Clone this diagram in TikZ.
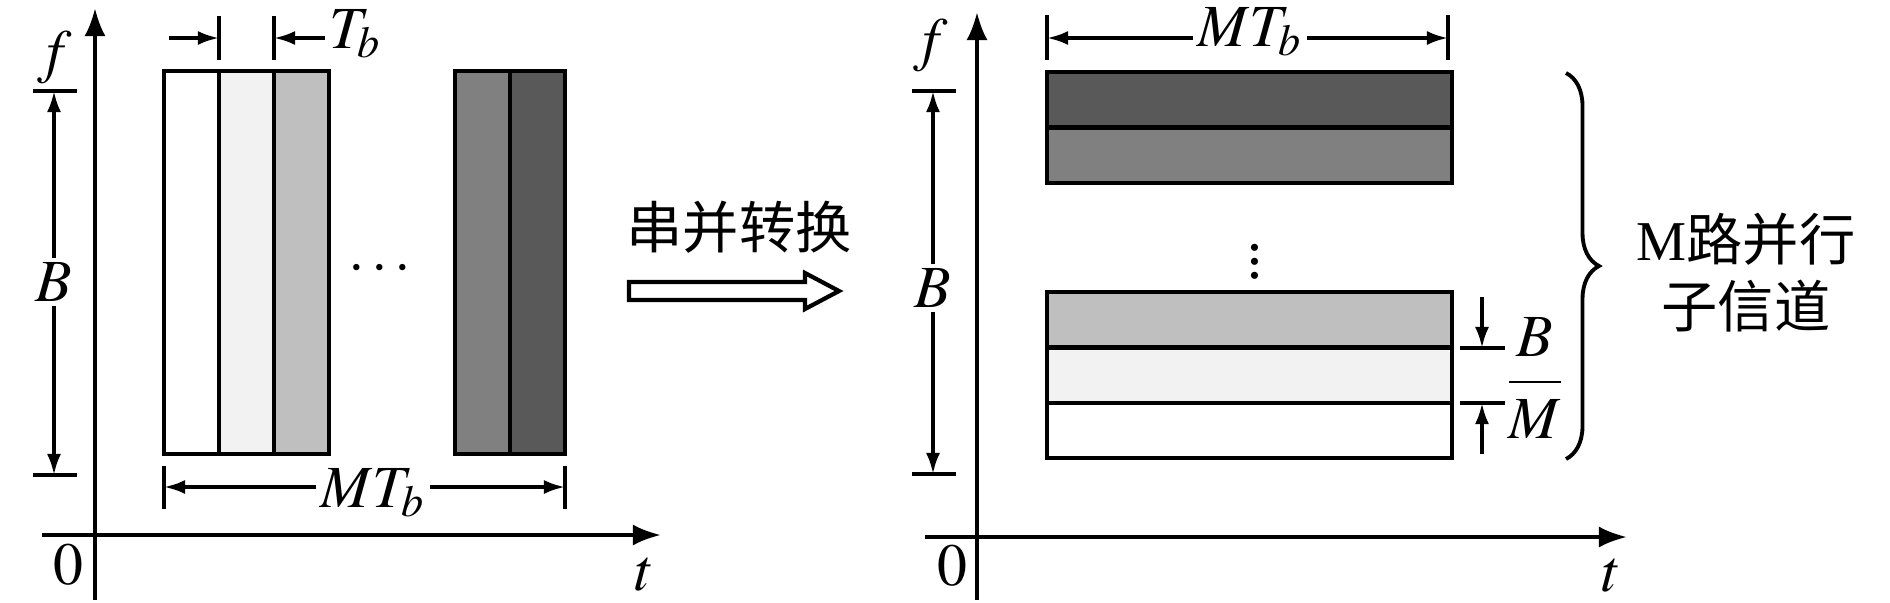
\documentclass[tikz,border=0pt]{standalone}
\usepackage{mathptmx}
\usepackage{fontspec}
\setmainfont{Liberation Serif}
\newfontfamily\cjk{Noto Sans CJK SC}
\usetikzlibrary{arrows.meta}
\usetikzlibrary{positioning}
\usetikzlibrary{decorations.pathreplacing}
\definecolor{shadeA}{gray}{0.95}
\definecolor{shadeB}{gray}{0.75}
\definecolor{shadeC}{gray}{0.5}
\definecolor{shadeD}{gray}{0.35}
\tikzset{axis/.style={-{Latex[length=8pt,width=6pt]}, line width=1.1pt}}
\tikzset{dim/.style={-{Latex[length=6pt,width=4pt]}, line width=1pt}}
\tikzset{tick/.style={line width=1.1pt}}
\tikzset{cell/.style={draw, line width=1.2pt}}
\tikzset{lbl/.style={inner sep=1pt, font=\fontsize{17}{20}\selectfont}}
\tikzset{zh/.style={inner sep=1pt, align=center, font=\fontsize{16}{19}\selectfont\cjk}}

\begin{document}
\begin{tikzpicture}[x=0.01cm, y=-0.01cm]
   \useasboundingbox (0,0) rectangle (1890,602);

   % serial
   \draw[axis] (95,600) -- (95,8);
   \draw[axis] (42,535) -- (661,535);
   \node[lbl] (lzero) at (68,565) {$0$};
   \node[lbl] (lt) at (645,575) {$t$};
   \node[lbl] (lf) at (55,58) {$f$};
   \draw[tick] (33,91) -- (77,91);
   \draw[tick] (33,475) -- (77,475);
   \coordinate (lbtop) at (54,91);
   \coordinate (lbbot) at (54,475);
   \node[lbl] (lB) at (54,282) {$B$};
   \draw[dim] (lB) -- (lbtop);
   \draw[dim] (lB) -- (lbbot);

   \foreach \x/\c in {164/white, 219/shadeA, 274/shadeB, 455/shadeC, 510/shadeD}
      \draw[cell, fill=\c] (\x,71) rectangle ++(55,383);
   \node[lbl] (ldots) at (380,269) {$\cdots$};

   \draw[tick] (219,16) -- (219,60);
   \draw[tick] (274,16) -- (274,60);
   \coordinate (tbl) at (169,38);
   \coordinate (tba) at (219,38);
   \coordinate (tbb) at (274,38);
   \node[lbl, anchor=base west] (ltb) at (325,48) {$T_b$};
   \draw[dim] (tbl) -- (tba);
   \draw[dim] (ltb.west |- tbb) -- (tbb);

   \draw[tick] (164,466) -- (164,509);
   \draw[tick] (565,466) -- (565,509);
   \coordinate (lmtl) at (164,487);
   \coordinate (lmtr) at (565,487);
   \node[lbl, anchor=base] (lmtb) at (373,507) {$MT_b$};
   \draw[dim] (lmtb.west |- lmtl) -- (lmtl);
   \draw[dim] (lmtb.east |- lmtr) -- (lmtr);

   % conversion
   \node[zh] (conv) at (739,227) {串并转换};
   \draw[line width=1.2pt, line join=miter]
      (629,282) -- (805,282) -- (805,273) -- (839,291) -- (805,309)
      -- (805,300) -- (629,300) -- cycle;

   % parallel
   \draw[axis] (977,600) -- (977,12);
   \draw[axis] (925,537) -- (1627,537);
   \node[lbl] (rzero) at (952,566) {$0$};
   \node[lbl] (rt) at (1612,576) {$t$};
   \node[lbl] (rf) at (931,46) {$f$};
   \draw[tick] (912,91) -- (956,91);
   \draw[tick] (912,474) -- (956,474);
   \coordinate (rbtop) at (933,91);
   \coordinate (rbbot) at (933,474);
   \node[lbl] (rB) at (933,288) {$B$};
   \draw[dim] (rB) -- (rbtop);
   \draw[dim] (rB) -- (rbbot);

   \draw[tick] (1047,15) -- (1047,60);
   \draw[tick] (1448,15) -- (1448,60);
   \coordinate (rmtl) at (1047,38);
   \coordinate (rmtr) at (1448,38);
   \node[lbl, anchor=base] (rmtb) at (1250,46) {$MT_b$};
   \draw[dim] (rmtb.west |- rmtl) -- (rmtl);
   \draw[dim] (rmtb.east |- rmtr) -- (rmtr);

   \foreach \y/\c in {72/shadeD, 128/shadeC, 292/shadeB, 348/shadeA, 403/white}
      \draw[cell, fill=\c] (1047,\y) rectangle ++(405,55);
   \node[lbl] (rdots) at (1255,251) {$\vdots$};

   \draw[tick] (1460,348) -- (1505,348);
   \draw[tick] (1460,403) -- (1505,403);
   \coordinate (bmtop) at (1482,348);
   \coordinate (bmbot) at (1482,403);
   \coordinate (bmin) at (1482,297);
   \coordinate (bmout) at (1482,454);
   \draw[dim] (bmin) -- (bmtop);
   \draw[dim] (bmout) -- (bmbot);
   \node[lbl] (bm) at (1535,378) {$\displaystyle\frac{B}{M}$};

   \draw[line width=1.1pt, decorate, decoration={brace, amplitude=0.33cm}]
      (1566,73) -- (1566,459);
   \node[zh] (chan) at (1746,273) {{\rmfamily M}路并行\\子信道};
\end{tikzpicture}
\end{document}
